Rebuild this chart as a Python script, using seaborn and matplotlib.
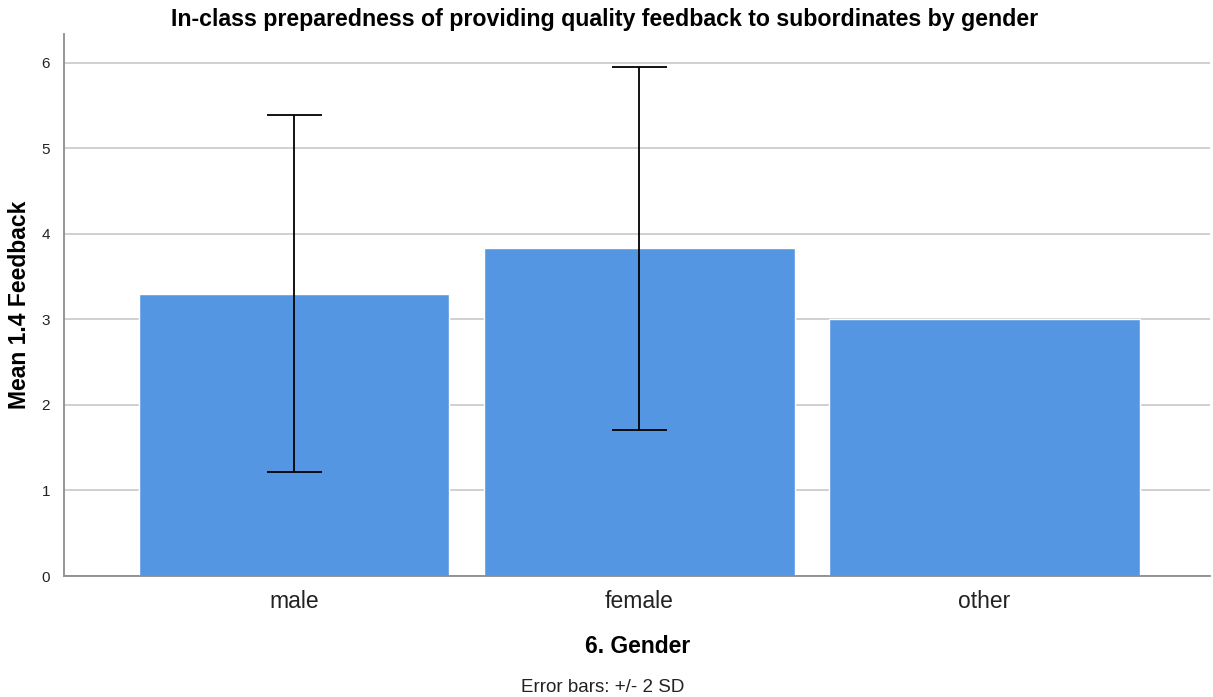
import numpy as np
import pandas as pd
import seaborn as sns
import matplotlib.pyplot as plt

genders = ["male", "female", "other"]
means = [3.30, 3.83, 3.00]
two_sd = [2.09, 2.12, np.nan]

sns.set_theme(style="white")
plt.rcParams['font.family'] = ['Liberation Sans', 'DejaVu Sans']

data = pd.DataFrame({"gender": genders, "mean": means, "err": two_sd})

fig = plt.figure(figsize=(12.13, 6.97), dpi=100)
ax = fig.add_axes([0.0528, 0.1736, 0.945, 0.777])

sns.barplot(data=data, x="gender", y="mean", color="#5596e3", saturation=1,
            width=0.9, errorbar=None, ax=ax, zorder=2)
ax.errorbar(np.arange(len(genders)), data["mean"], yerr=data["err"], fmt="none",
            ecolor="black", elinewidth=1.3, capsize=19.8, capthick=1.3, zorder=3)

ax.set_xlim(-0.667, 2.655)
ax.set_ylim(0, 6.33)
ax.set_yticks(range(0, 7))
ax.yaxis.grid(True, color="#c8c8c8", linewidth=1.2, zorder=0)
ax.set_axisbelow(True)
for s in ["top", "right"]:
    ax.spines[s].set_visible(False)
for s in ["left", "bottom"]:
    ax.spines[s].set_color("#8c8c8c")
    ax.spines[s].set_linewidth(1.3)
ax.tick_params(axis="y", labelsize=11, length=0, pad=10, labelcolor="#222222")
ax.tick_params(axis="x", labelsize=16.5, length=0, pad=10, labelcolor="#222222")

fig.suptitle("In-class preparedness of providing quality feedback to subordinates by gender",
             x=0.498, y=0.988, fontsize=16.7, fontweight="bold", color="black")
ax.set_ylabel("Mean 1.4 Feedback", fontsize=16.5, fontweight="bold", labelpad=8, color="black")
ax.set_xlabel("6. Gender", fontsize=16.5, fontweight="bold", labelpad=16, color="black")
fig.text(0.497, 0.002, "Error bars: +/- 2 SD", ha="center", va="bottom", fontsize=13.5,
         color="#222222")

fig.savefig("out.png", dpi=100)
